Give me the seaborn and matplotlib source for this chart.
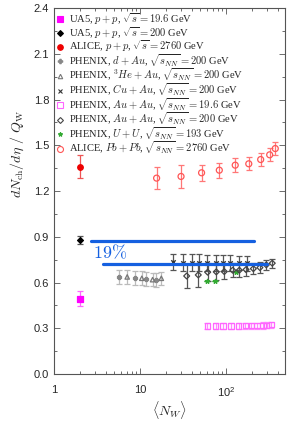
import numpy as np
import matplotlib
matplotlib.use("Agg")
import matplotlib.pyplot as plt
import seaborn as sns
from matplotlib.lines import Line2D

# ---- data ----
ua5_19_x = [2.0]
ua5_19_y = [0.494]
ua5_19_e = [0.05]

ua5_200_x = [2.0]
ua5_200_y = [0.878]
ua5_200_e = [0.025]

alice_pp_x = [2.0]
alice_pp_y = [1.36]
alice_pp_e = [0.075]

dau_x = [5.7, 8.75, 11.8, 15.3]
dau_y = [0.637, 0.632, 0.624, 0.619]
dau_e = [0.046, 0.046, 0.045, 0.045]

he3au_x = [7.1, 10.5, 14.0, 17.7]
he3au_y = [0.637, 0.628, 0.619, 0.628]
he3au_e = [0.045, 0.045, 0.044, 0.044]

cuau_x = [24.0, 31.4, 39.9, 49.0, 60.7, 75.9, 91.4, 112.0, 140.0, 174.0]
cuau_y = [0.735, 0.731, 0.731, 0.730, 0.730, 0.729, 0.729, 0.729, 0.728, 0.727]
cuau_e = [0.05, 0.055, 0.055, 0.055, 0.052, 0.05, 0.05, 0.05, 0.048, 0.048]

auau19_x = [60.6, 75.9, 92.3, 114.0, 140.6, 168.0, 197.0, 229.0, 269.0, 297.0, 336.0]
auau19_y = [0.315, 0.315, 0.315, 0.315, 0.315, 0.316, 0.316, 0.317, 0.318, 0.320, 0.324]
auau19_e = [0.02] * 11

auau200_x = [34.9, 47.6, 61.2, 77.1, 95.5, 119.6, 142.9, 171.0, 208.0, 248.0, 294.0, 345.0]
auau200_y = [0.643, 0.650, 0.668, 0.670, 0.672, 0.681, 0.681, 0.685, 0.691, 0.698, 0.716, 0.727]
auau200_e = [0.08, 0.08, 0.06, 0.055, 0.05, 0.045, 0.042, 0.04, 0.038, 0.035, 0.033, 0.03]

uu_x = [60.0, 75.0, 130.0]
uu_y = [0.61, 0.61, 0.668]
uu_e = [0.0, 0.0, 0.0]

pbpb_x = [15.6, 30.0, 52.0, 83.6, 128.0, 184.0, 253.0, 322.0, 374.0]
pbpb_y = [1.285, 1.296, 1.320, 1.337, 1.370, 1.379, 1.407, 1.438, 1.479]
pbpb_e = [0.074, 0.074, 0.052, 0.048, 0.046, 0.042, 0.042, 0.042, 0.045]

# 19% band lines
band_y = [0.873, 0.72]
band_x0 = [2.7, 3.74]
band_x1 = [212.0, 297.0]

sns.set_style("ticks")
plt.rcParams["font.family"] = ["Liberation Sans", "DejaVu Sans"]
plt.rcParams["font.serif"] = ["Liberation Serif", "DejaVu Serif"]
plt.rcParams["mathtext.fontset"] = "cm"

fig = plt.figure(figsize=(2.88, 4.22), dpi=100)
ax = fig.add_axes([0.1875, 0.1137, 0.802, 0.867])

series = [
    # x, y, err, marker, face, edge, errcolor, size, label
    (ua5_19_x, ua5_19_y, ua5_19_e, "s", "#ff00ff", "#ff00ff", "#ff66ff", 4,
     r"UA5, $p+p$, $\sqrt{s}=19.6$ GeV"),
    (ua5_200_x, ua5_200_y, ua5_200_e, "D", "black", "black", "#555555", 3,
     r"UA5, $p+p$, $\sqrt{s}=200$ GeV"),
    (alice_pp_x, alice_pp_y, alice_pp_e, "o", "#ee0000", "#ee0000", "#ee5555", 4,
     r"ALICE, $p+p$, $\sqrt{s}=2760$ GeV"),
    (dau_x, dau_y, dau_e, "P", "#888888", "#888888", "#bbbbbb", 3.2,
     r"PHENIX, $d+Au$, $\sqrt{s_{NN}}=200$ GeV"),
    (he3au_x, he3au_y, he3au_e, "^", "none", "#777777", "#bbbbbb", 3.2,
     r"PHENIX, $^3He+Au$, $\sqrt{s_{NN}}=200$ GeV"),
    (cuau_x, cuau_y, cuau_e, "x", "#333333", "#333333", "#555555", 3.2,
     r"PHENIX, $Cu+Au$, $\sqrt{s_{NN}}=200$ GeV"),
    (auau19_x, auau19_y, auau19_e, "s", "none", "#ff66ff", "#ff88ff", 3.8,
     r"PHENIX, $Au+Au$, $\sqrt{s_{NN}}=19.6$ GeV"),
    (uu_x, uu_y, uu_e, "*", "#33aa33", "#33aa33", "#33aa33", 3.2,
     r"PHENIX, $U+U$, $\sqrt{s_{NN}}=193$ GeV"),
    (auau200_x, auau200_y, auau200_e, "D", "none", "#444444", "#555555", 3,
     r"PHENIX, $Au+Au$, $\sqrt{s_{NN}}=200$ GeV"),
    (pbpb_x, pbpb_y, pbpb_e, "o", "none", "#ff5555", "#ff7777", 4.3,
     r"ALICE, $Pb+Pb$, $\sqrt{s_{NN}}=2760$ GeV"),
]

handles = {}
for x, y, e, m, fc, ec, errc, ms, lab in series:
    ax.errorbar(x, y, yerr=e, fmt="none", ecolor=errc, elinewidth=0.9,
                capsize=2, capthick=0.9, zorder=2)
    sns.scatterplot(x=x, y=y, marker=m, s=ms ** 2, ax=ax, zorder=3,
                    color=fc if fc != "none" else "none",
                    edgecolor=ec, linewidth=0.9 if m != "x" else 1.0,
                    legend=False)
    handles[lab] = Line2D([], [], ls="none", marker=m, ms=ms,
                          mfc=fc, mec=ec, mew=0.8)

for y0, x0, x1 in zip(band_y, band_x0, band_x1):
    ax.plot([x0, x1], [y0, y0], color="#1560e0", lw=2.3, zorder=4)
ax.text(2.84, 0.757, r"$19\%$", color="#1560e0", fontsize=13)

order = [0, 1, 2, 3, 4, 5, 6, 8, 7, 9]
labs = [series[i][8] for i in order]
leg = ax.legend([handles[l] for l in labs], labs, loc="upper left",
                frameon=False, handlelength=0.6, borderpad=0.2,
                handletextpad=0.5, labelspacing=-0.18, borderaxespad=0.1,
                prop={"family": "serif", "size": 7.6})

ax.set_xscale("log")
ax.set_xlim(1, 485)
ax.set_ylim(0, 2.4)
ax.set_yticks(np.arange(0, 2.41, 0.3))
ax.set_yticks(np.arange(0, 2.41, 0.15), minor=True)
ax.set_yticklabels([f"{v:.1f}" for v in np.arange(0, 2.41, 0.3)])
ax.set_xticks([1, 10, 100])
ax.set_xticklabels(["1", "10", r"$\mathregular{10^2}$"])
ax.tick_params(which="both", direction="in", top=True, right=True,
               labelsize=8, width=0.6, color="#555555")
ax.tick_params(which="major", length=4)
ax.tick_params(which="minor", length=2)
ax.tick_params(axis="x", pad=8)
for sp in ax.spines.values():
    sp.set_linewidth(0.8)
    sp.set_color("#555555")

ax.set_xlabel(r"$\langle N_W \rangle$", fontsize=10, labelpad=0)
ax.set_ylabel(r"$dN_{\rm ch}/d\eta\ /\ Q_{\rm W}$", fontsize=10)
ax.yaxis.set_label_coords(-0.12, 0.6)

fig.savefig("out.png", dpi=100)
